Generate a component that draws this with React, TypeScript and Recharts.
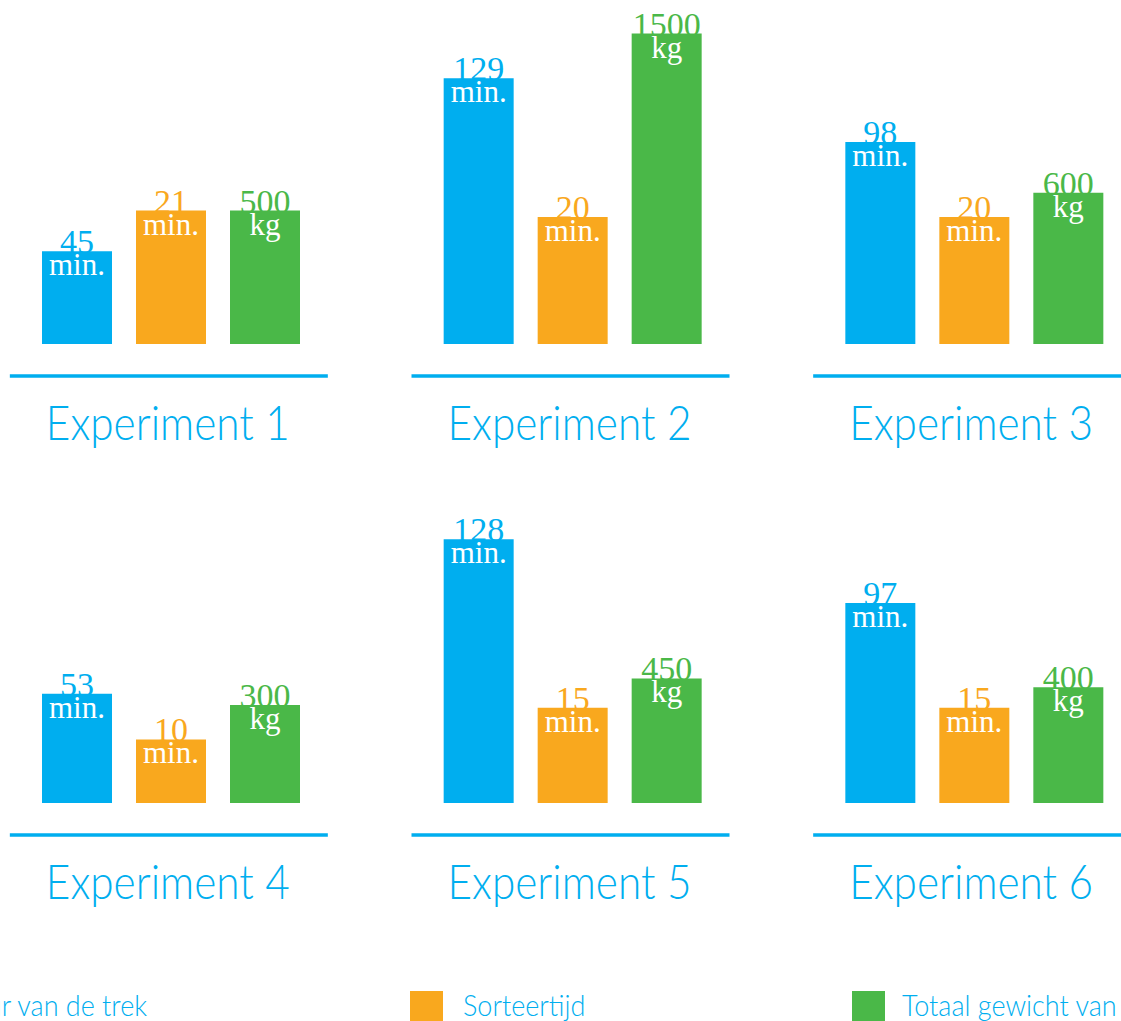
import { BarChart, Bar, XAxis, YAxis, LabelList } from 'recharts'

const experiments = ['Experiment 1', 'Experiment 2', 'Experiment 3', 'Experiment 4', 'Experiment 5', 'Experiment 6']
const duurTrek = [45, 129, 98, 53, 128, 97] // min.
const sorteertijd = [21, 20, 20, 10, 15, 15] // min.
const totaalGewicht = [500, 1500, 600, 300, 450, 400] // kg
const legendLabels = ['Duur van de trek', 'Sorteertijd', 'Totaal gewicht van de vangst']

const BLUE = '#00AEEF'
const ORANGE = '#F9A81E'
const GREEN = '#4AB848'

// the weight bars in the original are not drawn from zero, their scale starts lower
const GEWICHT_FLOOR = -254

const rows = [0, 1].map((r) =>
    experiments.slice(r * 3, r * 3 + 3).map((name, i) => ({
        name,
        duur: duurTrek[r * 3 + i],
        sorteer: sorteertijd[r * 3 + i],
        gewicht: totaalGewicht[r * 3 + i],
    }))
)

const ValueLabel = ({ x, y, width, value, color, unit }: any) => {
    const cx = Number(x) + Number(width) / 2
    const top = Number(y)
    return (
        <g fontFamily="'Liberation Serif', 'DejaVu Serif', serif">
            <text x={cx} y={top + 2} textAnchor="middle" fontSize={34} fill={color}>
                {value}
            </text>
            <text x={cx} y={top + 24} textAnchor="middle" fontSize={31} fill="#fff">
                {unit}
            </text>
        </g>
    )
}

const ExperimentTick = ({ x, y, payload }: any) => (
    <g>
        <line x1={x - 161} x2={x + 157} y1={y + 32} y2={y + 32} stroke={BLUE} strokeWidth={3.5} />
        <text
            x={x - 3}
            y={y + 96}
            textAnchor="middle"
            fontSize={48}
            fontWeight={300}
            fontFamily="Lato, 'Open Sans', sans-serif"
            fill={BLUE}
            textLength={244}
            lengthAdjust="spacingAndGlyphs"
        >
            {payload.value}
        </text>
    </g>
)

function ExperimentRow({ data, top }: { data: any[]; top: number }) {
    return (
        <div style={{ position: 'absolute', left: -30, top }}>
            <BarChart
                width={1205}
                height={459}
                data={data}
                margin={{ top: 4, right: 0, bottom: 0, left: 0 }}
                barSize={70}
                barGap={24}
            >
                <XAxis
                    dataKey="name"
                    axisLine={false}
                    tickLine={false}
                    tickSize={0}
                    tickMargin={0}
                    height={115}
                    interval={0}
                    tick={<ExperimentTick />}
                />
                <YAxis yAxisId="duur" hide domain={[0, 165]} allowDataOverflow />
                <YAxis yAxisId="sorteer" hide domain={[0, 53.5]} allowDataOverflow />
                <YAxis yAxisId="gewicht" hide domain={[GEWICHT_FLOOR, 1667]} allowDataOverflow />
                <Bar yAxisId="duur" dataKey="duur" fill={BLUE} isAnimationActive={false}>
                    <LabelList dataKey="duur" content={(p: any) => <ValueLabel {...p} color={BLUE} unit="min." />} />
                </Bar>
                <Bar yAxisId="sorteer" dataKey="sorteer" fill={ORANGE} isAnimationActive={false}>
                    <LabelList dataKey="sorteer" content={(p: any) => <ValueLabel {...p} color={ORANGE} unit="min." />} />
                </Bar>
                <Bar
                    yAxisId="gewicht"
                    dataKey={(d: any) => [GEWICHT_FLOOR, d.gewicht]}
                    fill={GREEN}
                    isAnimationActive={false}
                >
                    <LabelList dataKey="gewicht" content={(p: any) => <ValueLabel {...p} color={GREEN} unit="kg" />} />
                </Bar>
            </BarChart>
        </div>
    )
}

const legendText: React.CSSProperties = {
    position: 'absolute',
    top: 986,
    fontFamily: "Lato, 'Open Sans', sans-serif",
    fontWeight: 300,
    fontSize: 30,
    color: BLUE,
    whiteSpace: 'nowrap',
    lineHeight: '36px',
}

export default function App() {
    return (
        <div
            style={{
                position: 'absolute',
                left: 0,
                top: 0,
                width: 1121,
                height: 1021,
                overflow: 'hidden',
                background: '#fff',
            }}
        >
            <ExperimentRow data={rows[0]} top={0} />
            <ExperimentRow data={rows[1]} top={459} />

            {/* legend, cut off at both sides like the original */}
            <div style={{ position: 'absolute', left: -110, top: 991, width: 33, height: 33, background: BLUE }} />
            <div style={{ ...legendText, right: 1121 - 147, transform: 'scaleX(0.9)', transformOrigin: 'right' }}>
                {legendLabels[0]}
            </div>
            <div style={{ position: 'absolute', left: 410, top: 991, width: 33, height: 33, background: ORANGE }} />
            <div style={{ ...legendText, left: 463, transform: 'scaleX(0.9)', transformOrigin: 'left' }}>
                {legendLabels[1]}
            </div>
            <div style={{ position: 'absolute', left: 852, top: 991, width: 33, height: 33, background: GREEN }} />
            <div style={{ ...legendText, left: 902, transform: 'scaleX(0.9)', transformOrigin: 'left' }}>
                {legendLabels[2]}
            </div>
        </div>
    )
}
